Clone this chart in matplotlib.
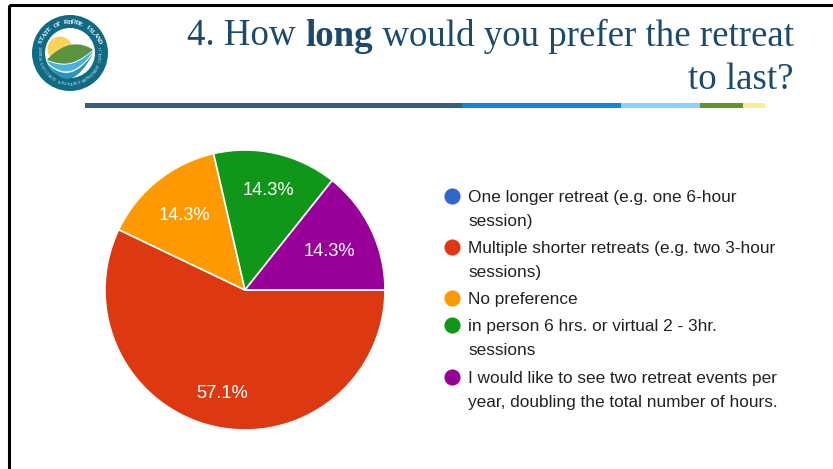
import numpy as np
import matplotlib
matplotlib.use("Agg")
import matplotlib.pyplot as plt
from matplotlib.patches import Circle, Rectangle, Polygon

# chart data
categories = ["One longer retreat (e.g. one 6-hour\nsession)",
              "Multiple shorter retreats (e.g. two 3-hour\nsessions)",
              "No preference",
              "in person 6 hrs. or virtual 2 - 3hr.\nsessions",
              "I would like to see two retreat events per\nyear, doubling the total number of hours."]
values = [0, 57.1, 14.3, 14.3, 14.3]
colors = ["#3366cc", "#dc3912", "#ff9900", "#109618", "#990099"]
legend_y = [196, 247, 298, 325, 377]
label_r = [0, 0.74, 0.696, 0.747, 0.668]

title_parts = [("4. How ", "normal"), ("long", "bold"), (" would you prefer the retreat", "normal")]
title_line2 = "to last?"
bar_x = [85, 462, 621, 700, 743, 765]
bar_colors = ["#34607f", "#0d88d6", "#88d4ff", "#5f9429", "#f9ee8d"]

W, H = 833, 469
fig = plt.figure(figsize=(W / 100, H / 100), dpi=100)
bg = fig.add_axes([0, 0, 1, 1])
bg.set_xlim(0, W)
bg.set_ylim(H, 0)
bg.axis("off")

# slide frame
bg.add_patch(Rectangle((9, 5), 900, 600, fill=False, ec="black", lw=2.2))

# title, right aligned, with the bold word
navy = "#1c4a6d"
fs = 26.6
xpos = 794
for txt, wt in reversed(title_parts):
    t = bg.text(xpos, 36, txt.replace(" ", "\u00a0"), family="Liberation Serif", weight=wt, fontsize=fs,
                color=navy, ha="right", va="center")
    xpos = t.get_window_extent(fig.canvas.get_renderer()).x0
bg.text(794, 80, title_line2, family="Liberation Serif", fontsize=fs, color=navy, ha="right", va="center")

# coloured rule
for i in range(len(bar_colors)):
    bg.add_patch(Rectangle((bar_x[i], 103), bar_x[i + 1] - bar_x[i], 5, fc=bar_colors[i], ec="none"))

# logo
cx, cy = 70, 53
bg.add_patch(Circle((cx, cy), 38, fc="#0f6b85", ec="none"))
bg.add_patch(Circle((cx, cy), 25, fc="white", ec="none", zorder=1))
bg.add_patch(Circle((60, 49), 12.5, fc="#f8d558", ec="none", zorder=2))
xs = np.linspace(47, 93, 40)
u = (xs - 47) / 46
hill_top = 60 - 10 * u - 10 * np.sin(u * np.pi) ** 0.8
hill_bot = 60 - 10 * u + 8 * np.sin(u * np.pi)
bg.add_patch(Polygon(np.c_[np.r_[xs, xs[::-1]], np.r_[hill_top, hill_bot[::-1]]], fc="#5b9440", ec="none", zorder=3))
water_top = hill_bot + 1
water_bot = water_top + 7 * np.sin(u * np.pi) ** 0.6
bg.add_patch(Polygon(np.c_[np.r_[xs, xs[::-1]], np.r_[water_top, water_bot[::-1]]], fc="#45b4e3", ec="none", zorder=3))
low = water_bot + 1.5
low2 = low + 6 * np.sin(u * np.pi) ** 0.8
bg.add_patch(Polygon(np.c_[np.r_[xs, xs[::-1]], np.r_[low, low2[::-1]]], fc="#2f93b8", ec="none", zorder=3))
word = "STATE OF RHODE ISLAND"
for i, ch in enumerate(word):
    a = np.radians(90 + 68 - i * 136 / (len(word) - 1))
    bg.text(cx + 31 * np.cos(a), cy - 31 * np.sin(a), ch, family="Liberation Serif", weight="bold", fontsize=4.6,
            color="white", ha="center", va="center", rotation=np.degrees(a) - 90)
word2 = "ENERGY EFFICIENCY & RESOURCE MANAGEMENT COUNCIL"
for i, ch in enumerate(word2):
    a = np.radians(-90 - 100 + i * 200 / (len(word2) - 1))
    bg.text(cx + 31.5 * np.cos(a), cy - 31.5 * np.sin(a), ch, family="Liberation Serif", fontsize=2.8,
            color="#d8eef2", ha="center", va="center", rotation=np.degrees(a) + 90)

# pie
ax = fig.add_axes([105 / W, 1 - 430 / H, 280 / W, 280 / H])
wedges, _ = ax.pie(values, colors=colors, startangle=0, counterclock=False, radius=1,
                   wedgeprops={"edgecolor": "white", "linewidth": 1.2})
ax.set_xlim(-1, 1)
ax.set_ylim(-1, 1)
ang = 0
for v, r in zip(values, label_r):
    mid = np.radians(ang - v / sum(values) * 180)
    ang -= v / sum(values) * 360
    if v > 0:
        ax.text(r * np.cos(mid), r * np.sin(mid), "%.1f%%" % v, color="white", ha="center", va="center_baseline",
                family="Liberation Sans", fontsize=13.2)

# legend
for c, y, lab in zip(colors, legend_y, categories):
    bg.scatter([452], [y], s=135, color=c, linewidths=0)
    for k, line in enumerate(lab.split("\n")):
        bg.text(468, y + k * 24.3, line, family="Liberation Sans", fontsize=12.45, color="#222222",
                ha="left", va="center_baseline")

fig.savefig("out.png", dpi=100)
